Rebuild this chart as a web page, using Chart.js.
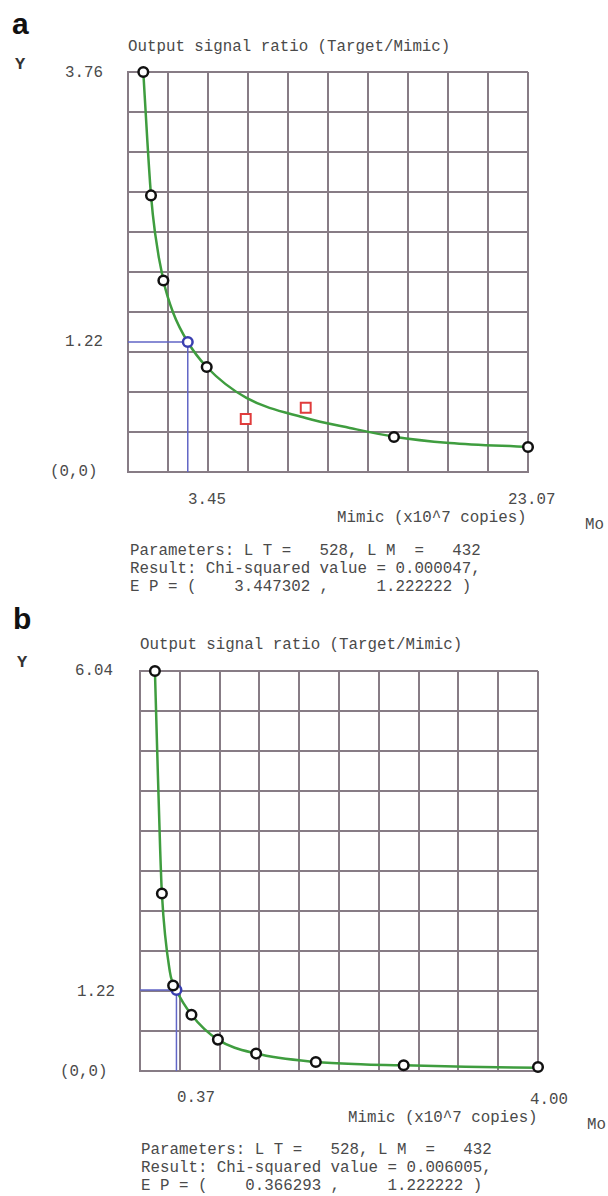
<!DOCTYPE html>
<html>
<head>
<meta charset="utf-8">
<script src="https://cdn.jsdelivr.net/npm/chart.js@4.4.1/dist/chart.umd.min.js"></script>
<style>
  body { margin: 0; background: #fff; width: 608px; height: 1196px; position: relative; overflow: hidden; }
  .t { position: absolute; font-family: "Liberation Mono", "Courier New", monospace; font-size: 15.8px; line-height: 18px; color: #4a4a4a; white-space: pre; }
  .r { text-align: right; }
  .yl { font-weight: bold; font-size: 17px; color: #333; }
  .lab { position: absolute; font-family: "Liberation Sans", Arial, sans-serif; font-weight: bold; font-size: 30px; line-height: 30px; color: #111; }
  .box { position: absolute; }
</style>
</head>
<body>

<!-- panel a -->
<div class="lab" style="left:12px;top:9px">a</div>
<div class="t" style="left:128px;top:38px">Output signal ratio (Target/Mimic)</div>
<div class="t yl" style="left:15px;top:56px">Y</div>
<div class="t r" id="yTopA" style="right:505px;top:64px"></div>
<div class="t r" id="yEpA" style="right:505px;top:333px"></div>
<div class="t" id="zeroA" style="left:50px;top:463px"></div>
<div class="t" id="xEpA" style="left:188px;top:491px"></div>
<div class="t" id="xMaxA" style="left:508px;top:491px"></div>
<div class="t" style="left:337px;top:509px">Mimic (x10^7 copies)</div>
<div class="t" style="left:585px;top:516px">Mo</div>
<div class="t" id="infoA" style="left:130px;top:542px"></div>
<div class="box" style="left:108px;top:52px;width:440px;height:440px"><canvas id="chartA" width="440" height="440"></canvas></div>

<!-- panel b -->
<div class="lab" style="left:13px;top:604px">b</div>
<div class="t" style="left:140px;top:636px">Output signal ratio (Target/Mimic)</div>
<div class="t yl" style="left:17px;top:654px">Y</div>
<div class="t r" id="yTopB" style="right:495px;top:662px"></div>
<div class="t r" id="yEpB" style="right:493px;top:983px"></div>
<div class="t" id="zeroB" style="left:60px;top:1063px"></div>
<div class="t" id="xEpB" style="left:177px;top:1089px"></div>
<div class="t" id="xMaxB" style="left:530px;top:1091px"></div>
<div class="t" style="left:348px;top:1109px">Mimic (x10^7 copies)</div>
<div class="t" style="left:587px;top:1116px">Mo</div>
<div class="t" id="infoB" style="left:141px;top:1141px"></div>
<div class="box" style="left:120px;top:651px;width:438px;height:440px"><canvas id="chartB" width="438" height="440"></canvas></div>

<script>
// ===== DATA: panel a =====
const fitXA = [0.883, 1.113, 1.327, 1.557, 2.04, 2.61, 3.447, 4.54, 6.83, 10.25, 12.79, 15.34, 18.55, 23.07];
const fitYA = [3.76, 3.12, 2.60, 2.25, 1.80, 1.495, 1.222, 0.987, 0.696, 0.508, 0.414, 0.332, 0.273, 0.235];
const ptsXA = [0.883, 1.327, 2.04, 4.54, 15.34, 23.07];
const ptsYA = [3.76, 2.60, 1.80, 0.987, 0.329, 0.235];
const outXA = [6.79, 10.25];
const outYA = [0.498, 0.604];
const epA = [3.447302, 1.222222];
const maxA = [23.07, 3.76];
const xTicksA = ['3.45', '23.07'];
const yTicksA = ['3.76', '1.22', '(0,0)'];
const chiA = '0.000047';

// ===== DATA: panel b =====
const fitXB = [0.15, 0.173, 0.203, 0.22, 0.30, 0.366, 0.517, 0.783, 1.167, 1.767, 2.267, 2.65, 3.27, 4.0];
const fitYB = [6.04, 4.83, 3.33, 2.68, 1.50, 1.222, 0.85, 0.474, 0.263, 0.136, 0.10, 0.085, 0.065, 0.05];
const ptsXB = [0.15, 0.22, 0.333, 0.517, 0.783, 1.167, 1.767, 2.65, 4.0];
const ptsYB = [6.04, 2.68, 1.29, 0.85, 0.474, 0.263, 0.136, 0.086, 0.06];
const epB = [0.366293, 1.222222];
const maxB = [4.00, 6.04];
const xTicksB = ['0.37', '4.00'];
const yTicksB = ['6.04', '1.22', '(0,0)'];
const chiB = '0.006005';

const LT = 528, LM = 432;

// ===== TEXT =====
function fillText(sfx, xt, yt, chi, ep) {
  document.getElementById('yTop' + sfx).textContent = yt[0];
  document.getElementById('yEp' + sfx).textContent = yt[1];
  document.getElementById('zero' + sfx).textContent = yt[2];
  document.getElementById('xEp' + sfx).textContent = xt[0];
  document.getElementById('xMax' + sfx).textContent = xt[1];
  document.getElementById('info' + sfx).textContent =
    'Parameters: L T =   ' + LT + ', L M  =   ' + LM + '\n' +
    'Result: Chi-squared value = ' + chi + ',\n' +
    'E P = (    ' + ep[0].toFixed(6) + ' ,     ' + ep[1].toFixed(6) + ' )';
}
fillText('A', xTicksA, yTicksA, chiA, epA);
fillText('B', xTicksB, yTicksB, chiB, epB);

// ===== CHARTS =====
const xy = (xs, ys) => xs.map((x, i) => ({ x: x, y: ys[i] }));
const gridCol = '#877c85';

function tenSteps(max) {
  return (s) => { s.ticks = Array.from({ length: 11 }, (_, i) => ({ value: max * i / 10 })); };
}

function makePanel(id, fx, fy, px, py, ox, oy, ep, max) {
  const datasets = [
    { data: xy(px, py), order: 0, clip: false, pointStyle: 'circle', pointRadius: 4.8,
      borderColor: '#111', backgroundColor: '#fff', borderWidth: 2.5 },
    { data: [{ x: ep[0], y: ep[1] }], order: 0, clip: false, pointStyle: 'circle', pointRadius: 4.8,
      borderColor: '#3a3fb0', backgroundColor: '#fff', borderWidth: 2.5 },
    { data: xy(fx, fy), order: 1, clip: false, showLine: true, pointRadius: 0,
      borderColor: '#3f9d3f', borderWidth: 2.5, cubicInterpolationMode: 'monotone' },
    { data: [{ x: 0, y: ep[1] }, { x: ep[0], y: ep[1] }, { x: ep[0], y: 0 }], order: 2, showLine: true,
      pointRadius: 0, borderColor: '#6266c6', borderWidth: 1.5, tension: 0 }
  ];
  if (ox.length) {
    datasets.push({ data: xy(ox, oy), order: 0, clip: false, pointStyle: 'rect', pointRadius: 7,
      borderColor: '#e03c3c', backgroundColor: '#fff', borderWidth: 2 });
  }
  new Chart(document.getElementById(id), {
    type: 'scatter',
    data: { datasets: datasets },
    options: {
      responsive: false,
      animation: false,
      devicePixelRatio: 1,
      layout: { padding: 20 },
      plugins: { legend: { display: false }, tooltip: { enabled: false } },
      scales: {
        x: { type: 'linear', min: 0, max: max[0], afterBuildTicks: tenSteps(max[0]),
             ticks: { display: false }, grid: { color: gridCol, lineWidth: 2, drawTicks: false },
             border: { color: gridCol, width: 2 } },
        y: { type: 'linear', min: 0, max: max[1], afterBuildTicks: tenSteps(max[1]),
             ticks: { display: false }, grid: { color: gridCol, lineWidth: 2, drawTicks: false },
             border: { color: gridCol, width: 2 } }
      }
    }
  });
}

makePanel('chartA', fitXA, fitYA, ptsXA, ptsYA, outXA, outYA, epA, maxA);
makePanel('chartB', fitXB, fitYB, ptsXB, ptsYB, [], [], epB, maxB);
</script>
</body>
</html>
